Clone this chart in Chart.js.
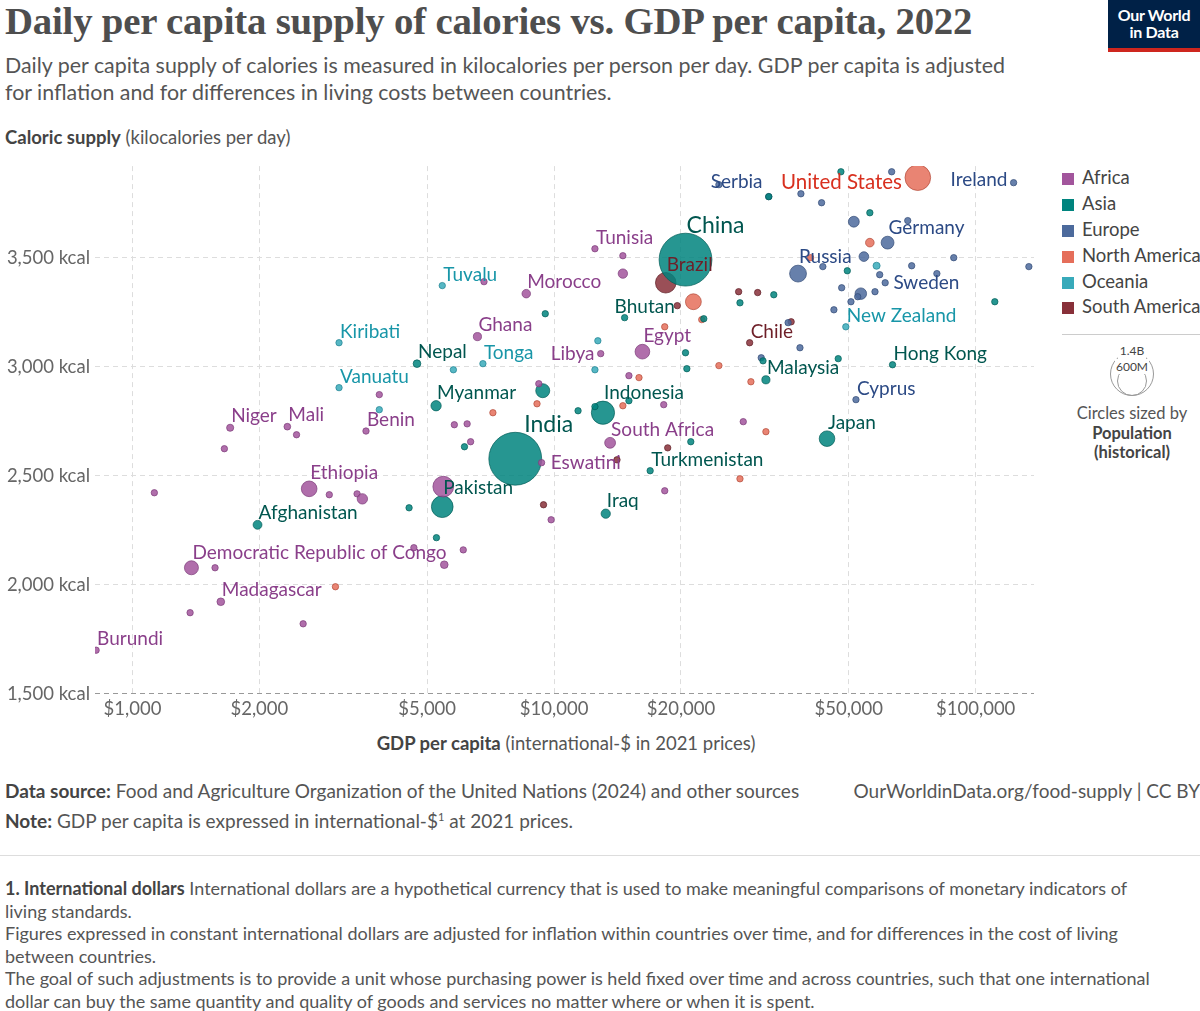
<!DOCTYPE html>
<html>
<head>
<meta charset="utf-8">
<script src="https://cdn.jsdelivr.net/npm/chart.js@4.4.1/dist/chart.umd.min.js"></script>
<style>
  body { margin: 0; width: 1200px; height: 1011px; background: #fff; font-family: Lato, 'Noto Sans', sans-serif; color: #333; position: relative; overflow: hidden; }
  .abs { position: absolute; }
  #title { left: 5px; top: -2px; font-family: 'Liberation Serif', 'DejaVu Serif', serif; font-weight: bold; font-size: 38.8px; color: #4e4e4e; letter-spacing: -0.2px; white-space: nowrap; }
  #sub { left: 5px; top: 52px; font-size: 21.4px; line-height: 27px; color: #555; width: 1032px; }
  #ytitle { left: 5px; top: 126px; font-size: 18.5px; color: #555; }
  #xtitle { left: 0; width: 1132px; text-align: center; top: 732px; font-size: 18.5px; color: #555; }
  #logo { left: 1108px; top: 0; width: 92px; height: 52px; background: #002147; color: #fff; font-size: 16px; font-weight: bold; line-height: 17px; text-align: center; padding-top: 6px; box-sizing: border-box; border-bottom: 4px solid #ce261e; letter-spacing: -0.3px; }
  .leg { left: 1062px; font-size: 18.5px; color: #444; white-space: nowrap; }
  .leg span { display: inline-block; width: 12px; height: 12px; margin-right: 8px; vertical-align: -1px; }
  #foot1 { left: 5px; top: 779px; font-size: 19px; color: #555; }
  #foot1r { right: 0px; top: 779px; font-size: 19px; color: #555; white-space: nowrap; }
  #foot2 { left: 5px; top: 809px; font-size: 19px; color: #555; }
  #rule { left: 0; top: 855px; width: 1200px; height: 1px; background: #ddd; }
  #notes { left: 5px; top: 877px; font-size: 18px; line-height: 22.5px; color: #555; width: 1150px; }
  b { color: #444; }
</style>
</head>
<body>
<div id="title" class="abs">Daily per capita supply of calories vs. GDP per capita, 2022</div>
<div id="logo" class="abs">Our World<br>in Data</div>
<div id="sub" class="abs">Daily per capita supply of calories is measured in kilocalories per person per day. GDP per capita is adjusted for inflation and for differences in living costs between countries.</div>
<div id="ytitle" class="abs"><b>Caloric supply</b> (kilocalories per day)</div>
<div class="abs" style="left:0;top:150px;width:1045px;height:574px;"><canvas id="c"></canvas></div>
<div id="xtitle" class="abs"><b>GDP per capita</b> (international-$ in 2021 prices)</div>

<div class="abs leg" style="top:166px"><span style="background:#a2559c"></span>Africa</div>
<div class="abs leg" style="top:192px"><span style="background:#00847e"></span>Asia</div>
<div class="abs leg" style="top:218px"><span style="background:#4c6a9c"></span>Europe</div>
<div class="abs leg" style="top:244px"><span style="background:#e56e5a"></span>North America</div>
<div class="abs leg" style="top:270px"><span style="background:#38aaba"></span>Oceania</div>
<div class="abs leg" style="top:295px"><span style="background:#883039"></span>South America</div>
<div class="abs" style="left:1062px;top:334px;width:138px;height:1px;background:#ccc"></div>
<div class="abs" style="left:1110px;top:352px;width:44px;height:44px;border:1px solid #999;border-radius:50%;box-sizing:border-box"></div>
<div class="abs" style="left:1117px;top:366px;width:30px;height:30px;border:1px solid #999;border-radius:50%;box-sizing:border-box"></div>
<div class="abs" style="left:1110px;top:343px;width:44px;text-align:center;font-size:12px;color:#444"><span style="background:#fff;padding:0 2px">1.4B</span></div>
<div class="abs" style="left:1110px;top:359px;width:44px;text-align:center;font-size:12px;color:#444"><span style="background:#fff;padding:0 1px">600M</span></div>
<div class="abs" style="left:1062px;top:404px;width:140px;text-align:center;font-size:16.5px;color:#555;line-height:19.5px">Circles sized by<br><b>Population<br>(historical)</b></div>

<div id="foot1" class="abs"><b>Data source:</b> Food and Agriculture Organization of the United Nations (2024) and other sources</div>
<div id="foot1r" class="abs">OurWorldinData.org/food-supply | CC BY</div>
<div id="foot2" class="abs"><b>Note:</b> GDP per capita is expressed in international-$<sup style="font-size:11px">1</sup> at 2021 prices.</div>
<div id="rule" class="abs"></div>
<div id="notes" class="abs"><b>1. International dollars</b> International dollars are a hypothetical currency that is used to make meaningful comparisons of monetary indicators of living standards.<br>Figures expressed in constant international dollars are adjusted for inflation within countries over time, and for differences in the cost of living between countries.<br>The goal of such adjustments is to provide a unit whose purchasing power is held fixed over time and across countries, such that one international dollar can buy the same quantity and quality of goods and services no matter where or when it is spent.</div>

<script>
// x = GDP per capita, y = kcal per day, p = population (millions, estimated), n = label
const africa = [
    { n: 'Burundi', x: 820, y: 1700, p: 13 },
    { n: 'Madagascar', x: 1620, y: 1922, p: 30 },
    { n: 'Democratic Republic of Congo', x: 1380, y: 2078, p: 100 },
    { n: 'Ethiopia', x: 2625, y: 2440, p: 125 },
    { n: 'Niger', x: 1705, y: 2720, p: 26 },
    { n: 'Mali', x: 2330, y: 2725, p: 23 },
    { n: 'Benin', x: 3580, y: 2705, p: 13 },
    { n: 'Ghana', x: 6580, y: 3138, p: 34 },
    { n: 'Morocco', x: 8590, y: 3335, p: 37 },
    { n: 'Eswatini', x: 9340, y: 2560, p: 1 },
    { n: 'South Africa', x: 13580, y: 2651, p: 60 },
    { n: 'Libya', x: 12900, y: 3060, p: 7 },
    { n: 'Tunisia', x: 12500, y: 3541, p: 12 },
    { n: 'Egypt', x: 16200, y: 3069, p: 110 },
    { x: 1127, y: 2422 }, { x: 1370, y: 1872 }, { x: 1570, y: 2078 }, { x: 1652, y: 2624 },
    { x: 2450, y: 2688 }, { x: 2930, y: 2413 }, { x: 3410, y: 2417 }, { x: 3510, y: 2394, p: 55 },
    { x: 3850, y: 2872 }, { x: 2540, y: 1821 }, { x: 4650, y: 2170 }, { x: 5800, y: 2734 },
    { x: 6220, y: 2738 }, { x: 6090, y: 2160 }, { x: 6340, y: 2656 }, { x: 6820, y: 3390 },
    { x: 9200, y: 2922 }, { x: 9840, y: 2298 }, { x: 14560, y: 3509 }, { x: 14560, y: 3427, p: 45 },
    { x: 18300, y: 2431 }, { x: 15050, y: 2959 }, { x: 28100, y: 2748 }, { x: 18200, y: 2826 },
    { x: 5460, y: 2450, p: 220 }, { x: 5490, y: 2092, p: 30 },
];
const asia = [
    { n: 'Afghanistan', x: 1980, y: 2275, p: 40 },
    { n: 'Nepal', x: 4730, y: 3014, p: 30 },
    { n: 'Myanmar', x: 5250, y: 2821, p: 54 },
    { n: 'Pakistan', x: 5430, y: 2358, p: 240 },
    { n: 'India', x: 8090, y: 2578, p: 1425 },
    { n: 'Indonesia', x: 13060, y: 2789, p: 275 },
    { n: 'Iraq', x: 13260, y: 2326, p: 44 },
    { n: 'Bhutan', x: 14700, y: 3225, p: 1 },
    { n: 'Turkmenistan', x: 16900, y: 2523, p: 6 },
    { n: 'China', x: 20500, y: 3491, p: 1425 },
    { n: 'Malaysia', x: 31800, y: 2940, p: 34 },
    { n: 'Japan', x: 44400, y: 2670, p: 124 },
    { n: 'Hong Kong', x: 63500, y: 3009, p: 7 },
    { x: 4530, y: 2353 }, { x: 5260, y: 2216 }, { x: 6130, y: 2633 }, { x: 9530, y: 3243 },
    { x: 11400, y: 2798 }, { x: 12500, y: 2817 }, { x: 15050, y: 2844 }, { x: 20650, y: 2991 },
    { x: 20500, y: 3064 }, { x: 22650, y: 3220 }, { x: 27600, y: 3293 }, { x: 31300, y: 3027 },
    { x: 33200, y: 3330 }, { x: 47900, y: 3894 }, { x: 49600, y: 3440 }, { x: 56100, y: 3706 },
    { x: 111000, y: 3298 }, { x: 47200, y: 3037 }, { x: 21100, y: 2656 }, { x: 9400, y: 2890, p: 100 },
    { x: 32300, y: 3780, p: 20 },
];
const europe = [
    { n: 'Serbia', x: 32300, y: 3780, p: 7 },
    { n: 'Russia', x: 37900, y: 3427, p: 145 },
    { n: 'Germany', x: 61800, y: 3569, p: 84 },
    { n: 'Sweden', x: 61000, y: 3385, p: 10 },
    { n: 'Cyprus', x: 52000, y: 2849, p: 1 },
    { n: 'Ireland', x: 123000, y: 3844, p: 5 },
    { x: 24600, y: 3835 }, { x: 38500, y: 3793 }, { x: 43100, y: 3752 }, { x: 51400, y: 3665, p: 60 },
    { x: 54300, y: 3505, p: 48 }, { x: 53400, y: 3335, p: 68 }, { x: 48100, y: 3362 }, { x: 59200, y: 3422 },
    { x: 70500, y: 3463 }, { x: 80900, y: 3427 }, { x: 88700, y: 3500 }, { x: 63200, y: 3894 },
    { x: 69000, y: 3670 }, { x: 38300, y: 3087 }, { x: 52500, y: 3321 }, { x: 133700, y: 3459 },
    { x: 35900, y: 3202 }, { x: 46100, y: 3261 }, { x: 50600, y: 3298 }, { x: 57700, y: 3344 },
    { x: 31000, y: 3041 }, { x: 43400, y: 3459 },
];
const northAmerica = [
    { n: 'United States', x: 72900, y: 3867, p: 335 },
    { x: 21400, y: 3298, p: 128 }, { x: 3030, y: 1991 }, { x: 7160, y: 2789 }, { x: 9110, y: 2830 },
    { x: 14560, y: 2821 }, { x: 15900, y: 2950 }, { x: 18300, y: 3183 }, { x: 22400, y: 3216 },
    { x: 24600, y: 3005 }, { x: 29300, y: 2931 }, { x: 31800, y: 2702 }, { x: 27600, y: 2486 },
    { x: 40600, y: 3500 }, { x: 56100, y: 3569, p: 38 },
];
const oceania = [
    { n: 'Kiribati', x: 3090, y: 3110, p: 1 },
    { n: 'Vanuatu', x: 3090, y: 2904, p: 1 },
    { n: 'Tuvalu', x: 5430, y: 3372, p: 1 },
    { n: 'Tonga', x: 6780, y: 3014, p: 1 },
    { n: 'New Zealand', x: 49200, y: 3183, p: 5 },
    { x: 3850, y: 2803 }, { x: 5770, y: 2986 }, { x: 12500, y: 2986 }, { x: 12700, y: 3119 },
    { x: 58200, y: 3463, p: 26 },
];
const southAmerica = [
    { n: 'Brazil', x: 18400, y: 3385, p: 215 },
    { n: 'Chile', x: 29100, y: 3110, p: 20 },
    { x: 27400, y: 3344 }, { x: 30400, y: 3340 }, { x: 36500, y: 3206 }, { x: 18600, y: 2628 },
    { x: 14100, y: 2573 }, { x: 9440, y: 2367 }, { x: 19600, y: 3280 },
];
const xTicks = [1000, 2000, 5000, 10000, 20000, 50000, 100000];
const yTicks = [1500, 2000, 2500, 3000, 3500];

const groups = [
    { data: africa, fill: '#a2559c', line: '#7b3b78', text: '#8a3f8a' },
    { data: asia, fill: '#00847e', line: '#005d58', text: '#00564f' },
    { data: europe, fill: '#4c6a9c', line: '#324a75', text: '#2c4a85' },
    { data: northAmerica, fill: '#e56e5a', line: '#b24b3a', text: '#d8301f' },
    { data: oceania, fill: '#38aaba', line: '#1f8190', text: '#1896a8' },
    { data: southAmerica, fill: '#883039', line: '#5f1e25', text: '#6e1f28' },
];

/* label placement tweaks: l = left of point */
const labelStyle = {
    'United States': { a: 'l', dy: 5, size: 20.5 },
    'Serbia': { a: 'l', dy: -15 },
    'Ireland': { a: 'l', dy: -3 },
    'Libya': { a: 'l', dy: 0 },
    'Sweden': { dx: 5, dy: 0 },
    'Eswatini': { dx: 6, dy: 0 },
    'China': { size: 23 },
    'India': { size: 23, dx: 9 },
    'Bhutan': { dx: -10 },
};

const radius = p => Math.max(3.2, 0.7 * Math.sqrt(p || 8));

const datasets = groups.map(g => ({
    data: g.data.map(d => ({ x: d.x, y: d.y, r: radius(d.p), n: d.n })),
    backgroundColor: g.fill + 'd9',
    borderColor: g.line,
    borderWidth: 0.7,
    textColor: g.text,
}));

const labelPlugin = {
    id: 'labels',
    afterDatasetsDraw(chart) {
        const ctx = chart.ctx;
        ctx.save();
        chart.data.datasets.forEach((ds, i) => {
            const meta = chart.getDatasetMeta(i);
            ds.data.forEach((d, j) => {
                if (!d.n) return;
                const el = meta.data[j];
                const s = labelStyle[d.n] || {};
                const size = s.size || 19;
                ctx.font = size + 'px Lato, sans-serif';
                ctx.fillStyle = ds.textColor;
                ctx.textBaseline = 'middle';
                const dy = s.dy !== undefined ? s.dy : -(d.r + 8);
                if (s.a === 'l') {
                    ctx.textAlign = 'right';
                    ctx.fillText(d.n, el.x - d.r - 3, el.y + dy);
                } else {
                    ctx.textAlign = 'left';
                    const dx = s.dx !== undefined ? s.dx + (s.dy === 0 ? d.r : 0) : 1;
                    ctx.fillText(d.n, el.x + dx, el.y + dy);
                }
            });
        });
        ctx.restore();
    },
};

const fmt = v => v.toLocaleString('en-US');

new Chart(document.getElementById('c'), {
    type: 'bubble',
    data: { datasets },
    plugins: [labelPlugin],
    options: {
        responsive: true,
        maintainAspectRatio: false,
        animation: false,
        layout: { autoPadding: false, padding: { top: 5, right: 11, left: 0 } },
        plugins: { legend: { display: false }, tooltip: { enabled: false } },
        scales: {
            x: {
                type: 'logarithmic',
                min: 815,
                max: 137500,
                afterBuildTicks: s => { s.ticks = xTicks.map(v => ({ value: v })); },
                ticks: { callback: v => '$' + fmt(v), color: '#666', font: { family: 'Lato', size: 18.5 }, padding: 4, maxRotation: 0, autoSkip: false },
                grid: { color: '#ddd', drawTicks: false, tickLength: 0 },
                border: { display: false, dash: [5, 4] },
            },
            y: {
                min: 1500,
                max: 3920,
                afterBuildTicks: s => { s.ticks = yTicks.map(v => ({ value: v })); },
                afterFit: s => { s.width = 95; },
                ticks: { callback: v => fmt(v) + ' kcal', color: '#666', font: { family: 'Lato', size: 18.5 }, padding: 5 },
                grid: { color: c => c.tick && c.tick.value === 1500 ? '#999' : '#ddd', drawTicks: false },
                border: { display: false, dash: [5, 4] },
            },
        },
    },
});
</script>
</body>
</html>
